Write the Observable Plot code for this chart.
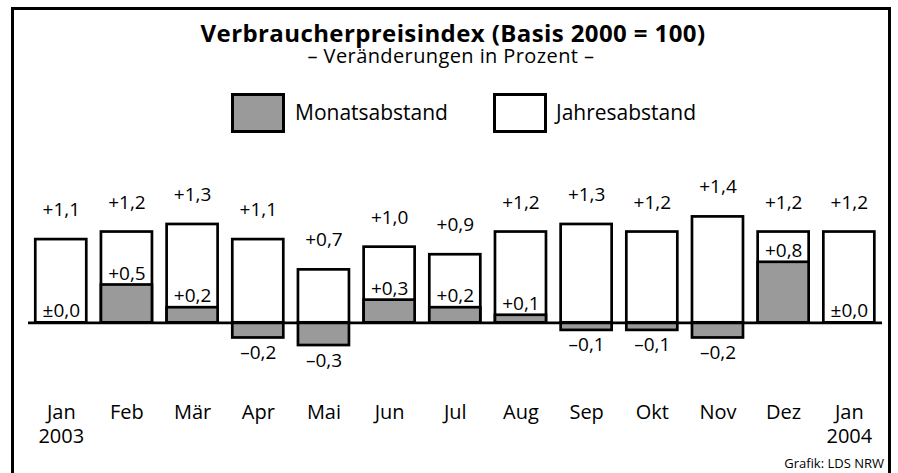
<!DOCTYPE html>
<html>
<head>
<meta charset="utf-8">
<script src="https://cdn.jsdelivr.net/npm/d3@7"></script>
<script src="https://cdn.jsdelivr.net/npm/@observablehq/plot@0.6"></script>
<style>
  html, body { margin: 0; padding: 0; background: #fff; }
  #wrap { position: relative; width: 898px; height: 473px; overflow: hidden; background: #fff;
          font-family: "Open Sans", "Noto Sans", sans-serif; color: #000; }
  #frame { position: absolute; left: 11px; top: 7px; width: 880px; height: 500px;
           border: 3px solid #000; border-bottom: none; box-sizing: border-box; }
  #title { position: absolute; left: 0; width: 906px; top: 21px; text-align: center;
           font-weight: 700; font-size: 24px; line-height: 24px; letter-spacing: 0.4px; white-space: nowrap; }
  #subtitle { position: absolute; left: 0; width: 902px; top: 46px; text-align: center;
              font-size: 20px; line-height: 20px; letter-spacing: 0.4px; white-space: nowrap; }
  .lg-box { position: absolute; top: 93px; width: 54px; height: 40px; border: 3px solid #000; box-sizing: border-box; }
  .lg-text { position: absolute; top: 100px; font-size: 21px; line-height: 24px; white-space: nowrap; }
  #chart { position: absolute; left: 0; top: 150px; }
  #caption { position: absolute; right: 14px; top: 455px; font-size: 13px; line-height: 16px; white-space: nowrap; }
</style>
</head>
<body>
<div id="wrap">
  <div id="frame"></div>
  <div id="title">Verbraucherpreisindex (Basis 2000 = 100)</div>
  <div id="subtitle">– Veränderungen in Prozent –</div>
  <div class="lg-box" style="left:231px; background:#9a9a9a;"></div>
  <div class="lg-text" style="left:295px;">Monatsabstand</div>
  <div class="lg-box" style="left:493px; background:#fff;"></div>
  <div class="lg-text" style="left:556px;">Jahresabstand</div>
  <div id="chart"></div>
  <div id="caption">Grafik: LDS NRW</div>
</div>
<script>
// ---- data ----
const months = ["Jan", "Feb", "Mär", "Apr", "Mai", "Jun", "Jul", "Aug", "Sep", "Okt", "Nov", "Dez", "Jan"];
const years = ["2003", "2003", "2003", "2003", "2003", "2003", "2003", "2003", "2003", "2003", "2003", "2003", "2004"];
const jahresabstand = [1.1, 1.2, 1.3, 1.1, 0.7, 1.0, 0.9, 1.2, 1.3, 1.2, 1.4, 1.2, 1.2];
const monatsabstand = [0.0, 0.5, 0.2, -0.2, -0.3, 0.3, 0.2, 0.1, -0.1, -0.1, -0.2, 0.8, 0.0];
const yearShown = ["2003", "", "", "", "", "", "", "", "", "", "", "", "2004"];

const grey = "#9a9a9a";

const data = months.map((m, i) => ({
  key: m + " " + years[i],
  label: yearShown[i] ? m + "\n" + yearShown[i] : m,
  jahr: jahresabstand[i],
  monat: monatsabstand[i]
}));
const labelOf = new Map(data.map(d => [d.key, d.label]));

const fmt = v => {
  const s = Math.abs(v).toFixed(1).replace(".", ",");
  if (v > 0) return "+" + s;
  if (v < 0) return "–" + s;
  return "±" + s;
};

const chart = Plot.plot({
  width: 898,
  height: 323,
  marginLeft: 20.6,
  marginRight: 9,
  marginTop: 21,
  marginBottom: 75,
  style: { fontFamily: "'Open Sans', 'Noto Sans', sans-serif", fontSize: "19px", color: "#000", background: "transparent" },
  x: { type: "band", domain: data.map(d => d.key), padding: 0.2234, round: false, axis: null },
  y: { domain: [-1, 2], axis: null },
  marks: [
    Plot.barY(data, { x: "key", y: "jahr", fill: "#fff", stroke: "#000", strokeWidth: 2.7 }),
    Plot.barY(data, { x: "key", y: "monat", fill: grey, stroke: "#000", strokeWidth: 2.7 }),
    Plot.ruleY([0], { stroke: "#000", strokeWidth: 2.7, insetLeft: 7.4, insetRight: 7 }),
    Plot.text(data, { x: "key", y: "jahr", text: d => fmt(d.jahr), dy: -29.5, fontSize: 19, fill: "#000" }),
    Plot.text(data.filter(d => d.monat >= 0), { x: "key", y: "monat", text: d => fmt(d.monat), dy: -11.5, fontSize: 19, fill: "#000" }),
    Plot.text(data.filter(d => d.monat < 0), { x: "key", y: "monat", text: d => fmt(d.monat), dy: 15, fontSize: 19, fill: "#000" }),
    Plot.axisX({ domain: data.map(d => d.key), tickSize: 0, tickPadding: 3, fontSize: 20, lineHeight: 1.2,
                 tickFormat: k => labelOf.get(k), fill: "#000", label: null })
  ]
});
document.getElementById("chart").appendChild(chart);
</script>
</body>
</html>
